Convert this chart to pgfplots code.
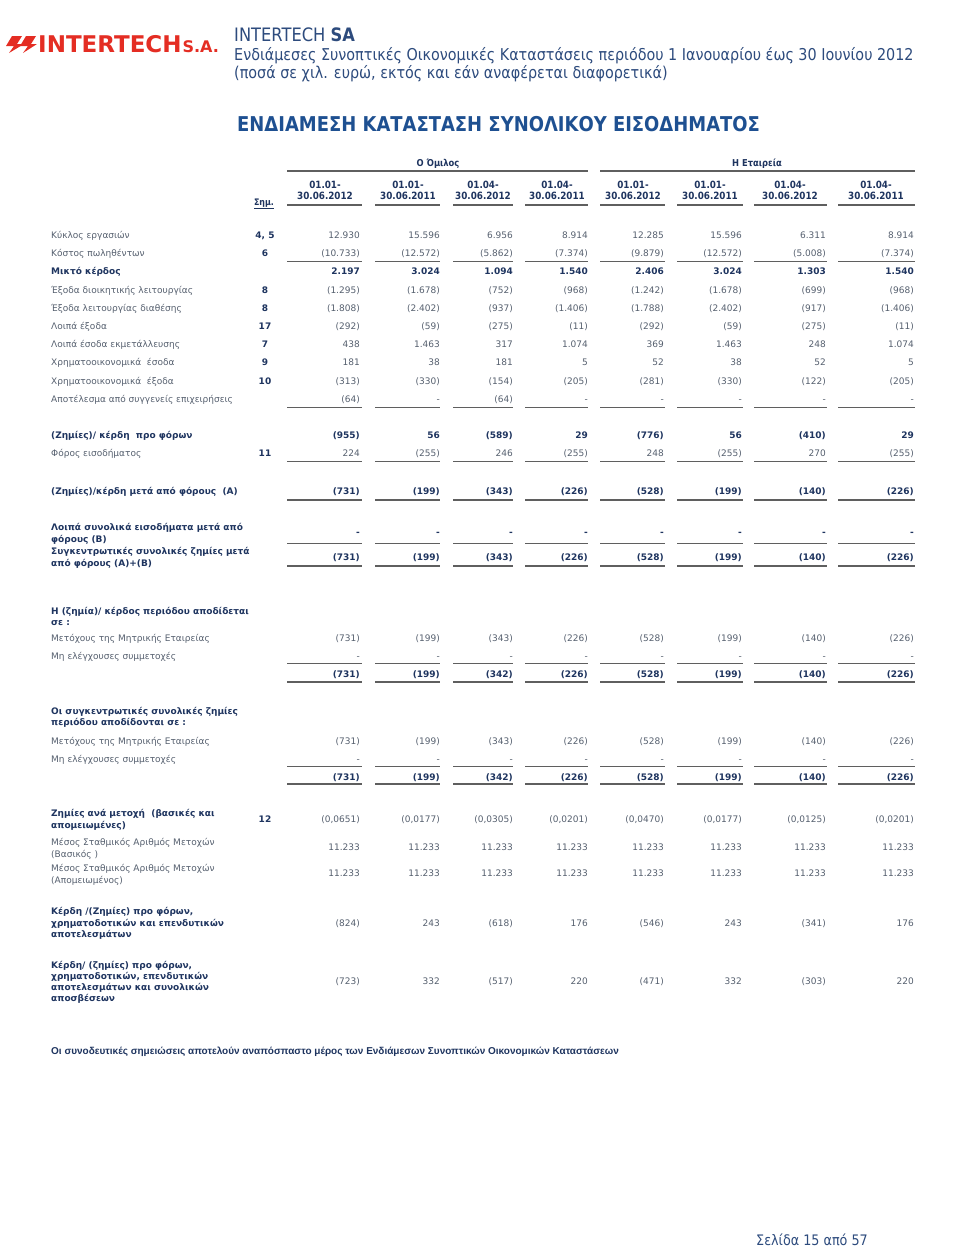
\documentclass[border=0pt]{standalone}
\usepackage{fontspec}
\setmainfont{DejaVu Sans}
\newfontfamily\tahoma[FakeStretch=0.88]{DejaVu Sans}
\newfontfamily\arialf{Liberation Sans}
\newfontfamily\logof{DejaVu Sans}
\usepackage{pgfplots}
\usepackage{pgfplotstable}
\pgfplotsset{compat=1.18}
\definecolor{tgray}{RGB}{85,95,110}
\definecolor{navy}{RGB}{30,52,95}
\definecolor{hblue}{RGB}{45,75,125}
\definecolor{tblue}{RGB}{30,80,145}
\definecolor{logored}{RGB}{228,45,35}
\definecolor{rulec}{RGB}{95,95,95}
\newcommand\tabfont{\fontsize{9}{11}\selectfont}
\tikzset{
  regval/.style={anchor=mid east, inner sep=0pt, yshift=-2pt, text=tgray, font=\tabfont},
  boldval/.style={anchor=mid east, inner sep=0pt, yshift=-2pt, text=navy, font=\tabfont\bfseries},
  hd/.style={anchor=mid, inner sep=0pt, yshift=-1.5pt, text=navy, font=\tahoma\bfseries\fontsize{10}{12}\selectfont},
}
% regular value rows: y, then 8 columns
\pgfplotstableread{
y v1 v2 v3 v4 v5 v6 v7 v8
234 12.930 15.596 6.956 8.914 12.285 15.596 6.311 8.914
252 (10.733) (12.572) (5.862) (7.374) (9.879) (12.572) (5.008) (7.374)
289 (1.295) (1.678) (752) (968) (1.242) (1.678) (699) (968)
307 (1.808) (2.402) (937) (1.406) (1.788) (2.402) (917) (1.406)
325 (292) (59) (275) (11) (292) (59) (275) (11)
343 438 1.463 317 1.074 369 1.463 248 1.074
361 181 38 181 5 52 38 52 5
380 (313) (330) (154) (205) (281) (330) (122) (205)
398 (64) - (64) - - - - -
452 224 (255) 246 (255) 248 (255) 270 (255)
637 (731) (199) (343) (226) (528) (199) (140) (226)
655 - - - - - - - -
740 (731) (199) (343) (226) (528) (199) (140) (226)
758 - - - - - - - -
818 (0,0651) (0,0177) (0,0305) (0,0201) (0,0470) (0,0177) (0,0125) (0,0201)
846 11.233 11.233 11.233 11.233 11.233 11.233 11.233 11.233
872 11.233 11.233 11.233 11.233 11.233 11.233 11.233 11.233
922 (824) 243 (618) 176 (546) 243 (341) 176
980 (723) 332 (517) 220 (471) 332 (303) 220
}\regtab
% bold value rows
\pgfplotstableread{
y v1 v2 v3 v4 v5 v6 v7 v8
270 2.197 3.024 1.094 1.540 2.406 3.024 1.303 1.540
434 (955) 56 (589) 29 (776) 56 (410) 29
490 (731) (199) (343) (226) (528) (199) (140) (226)
531 - - - - - - - -
556 (731) (199) (343) (226) (528) (199) (140) (226)
673 (731) (199) (342) (226) (528) (199) (140) (226)
776 (731) (199) (342) (226) (528) (199) (140) (226)
}\boldtab
% notes column
\pgfplotstableread[col sep=semicolon]{
y;n
234;4, 5
252;6
289;8
307;8
325;17
343;7
361;9
380;10
452;11
818;12
}\notetab
\newcommand\valplot[4]{\addplot[draw=none, nodes near coords, point meta=explicit symbolic,
  every node near coord/.append style={#4}] table[x expr=#1, y=y, meta=#2] {#3};}
\newcommand\allcols[2]{%
  \valplot{360}{v1}{#1}{#2}\valplot{440}{v2}{#1}{#2}\valplot{513}{v3}{#1}{#2}\valplot{588}{v4}{#1}{#2}%
  \valplot{664}{v5}{#1}{#2}\valplot{742}{v6}{#1}{#2}\valplot{826}{v7}{#1}{#2}\valplot{914}{v8}{#1}{#2}}
\newcommand\rulerow[2]{\addplot[rulec, #2] coordinates {(287,#1)(362,#1)(368,nan)(375,#1)(440,#1)(446,nan)(453,#1)(513,#1)(519,nan)(525,#1)(588,#1)(594,nan)(600,#1)(665,#1)(671,nan)(677,#1)(743,#1)(749,nan)(754,#1)(827,#1)(832,nan)(838,#1)(915,#1)};}
\newcommand\lab[2]{\node[anchor=mid west, inner sep=0pt, yshift=-2pt, text=tgray, font=\tabfont] at (axis cs:51,#1) {#2};}
\newcommand\blab[2]{\node[anchor=mid west, inner sep=0pt, yshift=-2pt, text=navy, font=\tabfont\bfseries] at (axis cs:51,#1) {#2};}
\newcommand\dhead[3]{\node[hd] at (axis cs:#1,184) {#2};
  \node[hd] at (axis cs:#1,195) {#3};}
\begin{document}
\begin{tikzpicture}
\begin{axis}[width=960pt, height=1251pt, scale only axis,
  xmin=0, xmax=960, ymin=0, ymax=1251, y dir=reverse,
  hide axis, clip=false, unbounded coords=jump]
\coordinate (pSW) at (axis cs:0,1251);
\coordinate (pNE) at (axis cs:960,0);
% ---------- header ----------
\fill[logored] (axis cs:12,36) -- (22,36) -- (17,44) -- (24,44) -- (9,53) -- (14,46) -- (6,46) -- cycle;
\fill[logored] (axis cs:26,36) -- (36,36) -- (31,44) -- (37,44) -- (23,53) -- (28,46) -- (20,46) -- cycle;
\node[anchor=base west, inner sep=0pt, text=logored] at (axis cs:38,52)
  {\logof\bfseries\fontsize{23}{25}\selectfont INTERTECH\kern1pt{\fontsize{16}{17}\selectfont S.A.}};
\node[anchor=mid west, inner sep=0pt, text=hblue] at (axis cs:234,39)
  {\tahoma\fontsize{18.5}{21}\selectfont INTERTECH \textbf{SA}};
\node[anchor=mid west, inner sep=0pt, text=hblue] at (axis cs:234,58)
  {\tahoma\fontsize{16.3}{19}\selectfont Ενδιάμεσες Συνοπτικές Οικονομικές Καταστάσεις περιόδου 1 Ιανουαρίου έως 30 Ιουνίου 2012};
\node[anchor=mid west, inner sep=0pt, text=hblue] at (axis cs:234,76)
  {\tahoma\fontsize{16.3}{19}\selectfont (ποσά σε χιλ. ευρώ, εκτός και εάν αναφέρεται διαφορετικά)};
\node[anchor=mid west, inner sep=0pt, text=tblue] at (axis cs:237,129)
  {\tahoma\bfseries\fontsize{20.4}{23}\selectfont ΕΝΔΙΑΜΕΣΗ ΚΑΤΑΣΤΑΣΗ ΣΥΝΟΛΙΚΟΥ ΕΙΣΟΔΗΜΑΤΟΣ};
% ---------- column headers ----------
\node[anchor=mid, inner sep=0pt, yshift=-2pt, text=navy, font=\tahoma\bfseries\fontsize{9.5}{11}\selectfont] at (axis cs:438,162) {Ο Όμιλος};
\node[anchor=mid, inner sep=0pt, yshift=-2pt, text=navy, font=\tahoma\bfseries\fontsize{9.5}{11}\selectfont] at (axis cs:757,162) {Η Εταιρεία};
\addplot[rulec, line width=1.2pt] coordinates {(287,171)(588,171)(594,nan)(600,171)(915,171)};
\dhead{325}{01.01-}{30.06.2012}
\dhead{408}{01.01-}{30.06.2011}
\dhead{483}{01.04-}{30.06.2012}
\dhead{557}{01.04-}{30.06.2011}
\dhead{633}{01.01-}{30.06.2012}
\dhead{710}{01.01-}{30.06.2011}
\dhead{790}{01.04-}{30.06.2012}
\dhead{876}{01.04-}{30.06.2011}
\node[anchor=mid, inner sep=0pt, yshift=-1.5pt, text=navy, font=\tahoma\bfseries\fontsize{9}{11}\selectfont] at (axis cs:264,201) {\underline{Σημ.}};
\rulerow{205}{line width=1.2pt}
% ---------- rules ----------
\rulerow{261}{line width=0.8pt}
\rulerow{407}{line width=0.8pt}
\rulerow{461}{line width=0.8pt}
\rulerow{500}{line width=2.2pt}
\rulerow{543}{line width=0.8pt}
\rulerow{566}{line width=2.2pt}
\rulerow{663}{line width=0.8pt}
\rulerow{682}{line width=2.2pt}
\rulerow{766}{line width=0.8pt}
\rulerow{784}{line width=2.2pt}
% ---------- values ----------
\allcols{\regtab}{regval}
\allcols{\boldtab}{boldval}
\addplot[draw=none, nodes near coords, point meta=explicit symbolic,
  every node near coord/.append style={anchor=mid, inner sep=0pt, yshift=-2pt, text=navy, font=\tabfont\bfseries}]
  table[x expr=265, y=y, meta=n] {\notetab};
% ---------- labels ----------
\lab{234}{Κύκλος εργασιών}
\lab{252}{Κόστος πωληθέντων}
\blab{270}{Μικτό κέρδος}
\lab{289}{Έξοδα διοικητικής λειτουργίας}
\lab{307}{Έξοδα λειτουργίας διαθέσης}
\lab{325}{Λοιπά έξοδα}
\lab{343}{Λοιπά έσοδα εκμετάλλευσης}
\lab{361}{Χρηματοοικονομικά\ \ έσοδα}
\lab{380}{Χρηματοοικονομικά\ \ έξοδα}
\lab{398}{Αποτέλεσμα από συγγενείς επιχειρήσεις}
\blab{434}{(Ζημίες)/ κέρδη\ \ προ φόρων}
\lab{452}{Φόρος εισοδήματος}
\blab{490}{(Ζημίες)/κέρδη μετά από φόρους\ \ (Α)}
\blab{526}{Λοιπά συνολικά εισοδήματα μετά από}
\blab{538}{φόρους (Β)}
\blab{550}{Συγκεντρωτικές συνολικές ζημίες μετά}
\blab{562}{από φόρους (Α)+(Β)}
\blab{610}{Η (ζημία)/ κέρδος περιόδου αποδίδεται}
\blab{621}{σε :}
\lab{637}{Μετόχους της Μητρικής Εταιρείας}
\lab{655}{Μη ελέγχουσες συμμετοχές}
\blab{710}{Οι συγκεντρωτικές συνολικές ζημίες}
\blab{721}{περιόδου αποδίδονται σε :}
\lab{740}{Μετόχους της Μητρικής Εταιρείας}
\lab{758}{Μη ελέγχουσες συμμετοχές}
\blab{812}{Ζημίες ανά μετοχή\ \ (βασικές και}
\blab{824}{απομειωμένες)}
\lab{841}{Μέσος Σταθμικός Αριθμός Μετοχών}
\lab{853}{(Βασικός )}
\lab{867}{Μέσος Σταθμικός Αριθμός Μετοχών}
\lab{879}{(Απομειωμένος)}
\blab{910}{Κέρδη /(Ζημίες) προ φόρων,}
\blab{922}{χρηματοδοτικών και επενδυτικών}
\blab{933}{αποτελεσμάτων}
\blab{964}{Κέρδη/ (ζημίες) προ φόρων,}
\blab{975}{χρηματοδοτικών, επενδυτικών}
\blab{986}{αποτελεσμάτων και συνολικών}
\blab{997}{αποσβέσεων}
% ---------- footer ----------
\node[anchor=mid west, inner sep=0pt, yshift=-1.5pt, text=navy] at (axis cs:51,1050)
  {\arialf\bfseries\fontsize{10}{12}\selectfont Οι συνοδευτικές σημειώσεις αποτελούν αναπόσπαστο μέρος των Ενδιάμεσων Συνοπτικών Οικονομικών Καταστάσεων};
\node[anchor=mid east, inner sep=0pt, text=hblue] at (axis cs:868,1243)
  {\tahoma\fontsize{14.5}{17}\selectfont Σελίδα 15 από 57};
\end{axis}
\pgfresetboundingbox
\path[use as bounding box] (pSW) rectangle (pNE);
\end{tikzpicture}
\end{document}
